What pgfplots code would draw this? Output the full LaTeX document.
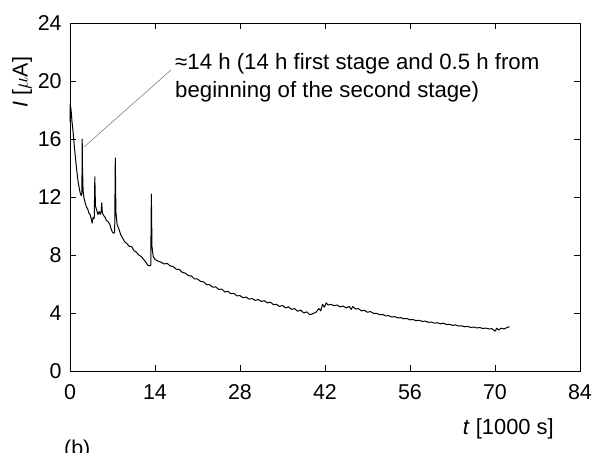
\documentclass[border=0pt]{standalone}
\usepackage{fontspec}
\setmainfont{Liberation Sans}
\usepackage{pgfplots}
\pgfplotsset{compat=1.18}
\begin{document}
\fontsize{21.5}{25}\selectfont
\begin{tikzpicture}
\useasboundingbox (-70bp,-82bp) rectangle (522bp,371bp);
\begin{axis}[
  at={(0,0)}, anchor=south west,
  scale only axis, width=510bp, height=348bp,
  xmin=0, xmax=84, ymin=0, ymax=24,
  xtick={0,14,...,84}, ytick={0,4,...,24},
  tick align=inside, major tick length=6bp,
  axis line style={line width=0.9pt},
  tick style={black, line width=0.9pt},
  /pgf/number format/assume math mode=true,
  tick label style={font=\fontsize{21.5}{25}\selectfont},
  xticklabel style={yshift=-6bp},
  yticklabel style={xshift=-1bp},
  clip=false,
]
\addplot[black, line width=1pt, line join=round] coordinates {
(0.0,17.2) (0.03,18.4) (0.18,18.0) (0.33,17.2) (0.53,16.4) (0.73,15.4) (0.92,14.6) (1.12,13.8) (1.32,13.1) (1.52,12.6) (1.72,12.2) (1.86,12.1) (1.96,12.3) (2.01,16.0) (2.06,14.0) (2.16,12.4) (2.31,11.9) (2.51,11.6) (2.71,11.3) (2.9,11.2) (3.1,10.9) (3.3,10.8) (3.5,10.5) (3.65,10.2) (3.8,10.6) (3.99,10.5) (4.09,13.4) (4.19,11.4) (4.39,11.1) (4.59,10.8) (4.79,11.0) (4.98,10.8) (5.13,11.0) (5.23,11.6) (5.33,10.9) (5.58,10.7) (5.78,10.6) (5.97,10.4) (6.27,10.3) (6.57,10.1) (6.77,9.8) (6.96,9.6) (7.16,9.5) (7.36,9.55) (7.46,14.7) (7.56,11.0) (7.76,10.1) (8.05,9.8) (8.35,9.4) (8.75,9.1) (9.04,8.9) (9.34,8.8) (9.74,8.6) (10.13,8.6) (10.53,8.3) (10.92,8.2) (11.32,8.0) (11.72,7.9) (12.11,7.7) (12.51,7.5) (12.8,7.3) (13.1,7.25) (13.3,7.3) (13.4,12.2) (13.5,8.6) (13.7,7.9) (13.99,7.7) (14.39,7.6)
(15.0,7.5) (15.5,7.38) (16.0,7.42) (16.5,7.25) (17.0,7.2) (17.5,7.02) (18.0,7.0) (18.5,6.8) (19.0,6.75) (19.5,6.58) (20.0,6.55) (20.5,6.35) (21.0,6.35) (21.5,6.18) (22.0,6.15) (22.5,5.95) (23.0,5.95) (23.5,5.78) (24.0,5.8) (24.5,5.62) (25.0,5.65) (25.5,5.45) (26.0,5.5) (26.5,5.33) (27.0,5.35) (27.5,5.18) (28.0,5.2) (28.5,5.05) (29.0,5.1) (29.5,4.95) (30.0,5.0) (30.5,4.87) (31.0,4.93) (31.5,4.8) (32.0,4.85) (32.5,4.7) (33.0,4.75) (33.5,4.58) (34.0,4.6) (34.5,4.45) (35.0,4.52) (35.5,4.35) (36.0,4.42) (36.5,4.25) (37.0,4.3) (37.5,4.12) (38.0,4.2) (38.5,4.0) (39.0,4.08) (39.5,3.88) (40.0,3.95) (40.5,4.05) (41.0,4.3) (41.3,4.15) (41.6,4.6) (41.9,4.4) (42.2,4.7) (42.5,4.55) (43.0,4.6) (43.5,4.5) (44.0,4.55) (44.5,4.42) (45.0,4.48) (45.5,4.35) (46.0,4.45) (46.3,4.25) (46.6,4.45) (47.0,4.28) (47.5,4.3) (48.0,4.15) (48.5,4.18) (49.0,4.05) (49.5,4.1) (50.0,3.97) (50.5,3.98) (51.0,3.88) (51.5,3.9) (52.0,3.8) (52.5,3.82) (53.0,3.72) (53.5,3.75) (54.0,3.66) (54.5,3.68) (55.0,3.6) (55.5,3.62) (56.0,3.53) (56.5,3.55) (57.0,3.47) (57.5,3.5) (58.0,3.42) (58.5,3.44) (59.0,3.36) (59.5,3.38) (60.0,3.3) (60.5,3.33) (61.0,3.25) (61.5,3.3) (62.0,3.2) (62.5,3.22) (63.0,3.15) (63.5,3.18) (64.0,3.1) (64.5,3.12) (65.0,3.05) (65.5,3.08) (66.0,3.0) (66.5,3.03) (67.0,2.97) (67.5,3.0) (68.0,2.93) (68.5,2.96) (69.0,2.9) (69.5,2.92) (70.0,2.75) (70.3,2.95) (70.6,2.82) (71.0,2.95) (71.5,2.9) (72.0,3.0) (72.4,3.05)
};
\end{axis}
\draw[gray, line width=0.6pt] (14bp,224bp) -- (101bp,301bp);
\node[anchor=base west, inner sep=0pt, font=\fontsize{22.3}{26}\selectfont] at (105bp,301bp) {≈14 h (14 h first stage and 0.5 h from};
\node[anchor=base west, inner sep=0pt, font=\fontsize{22.3}{26}\selectfont] at (105bp,273bp) {beginning of the second stage)};
\node[anchor=base east, inner sep=0pt, font=\fontsize{22}{26}\selectfont] at (484bp,-63bp) {\textit{t} [1000 s]};
\node[anchor=center, inner sep=0pt, rotate=90] at (-48bp,289bp) {\textit{I} [$\mu$A]};
\node[anchor=base west, inner sep=0pt] at (-6bp,-84bp) {(b)};
\end{tikzpicture}
\end{document}
